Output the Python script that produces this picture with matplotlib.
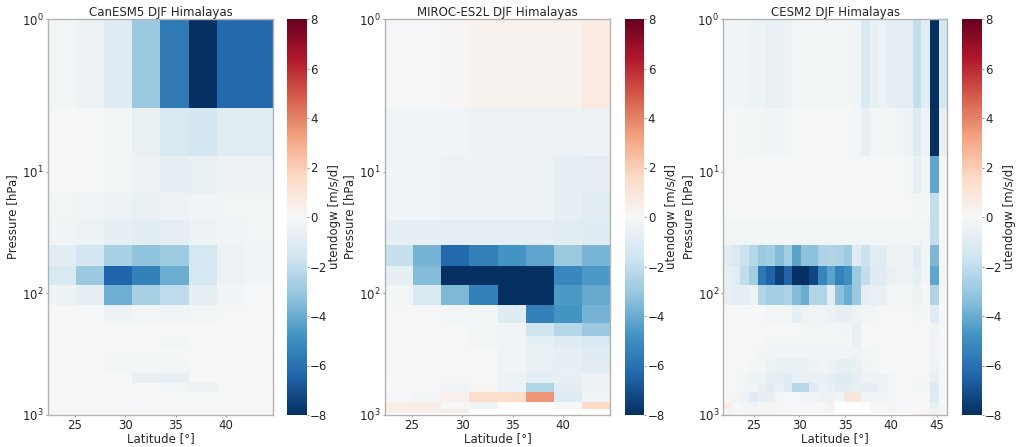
import numpy as np
import matplotlib
matplotlib.use("Agg")
import matplotlib.pyplot as plt
from matplotlib.ticker import LogLocator, LogFormatterSciNotation, NullLocator

nan = np.nan

# ---------------- data ----------------
plev = [1, 5, 10, 20, 30, 50, 70, 100, 150, 200, 250, 300, 400, 500, 600, 700, 850, 925, 1000]

lat_canesm5 = [23.72, 26.51, 29.30, 32.09, 34.88, 37.67, 40.46, 43.25]
lat_miroc = [23.72, 26.51, 29.30, 32.09, 34.88, 37.67, 40.46, 43.25]
lat_cesm2 = [22.15, 23.09, 24.03, 24.97, 25.92, 26.86, 27.80, 28.74, 29.69, 30.63,
             31.57, 32.51, 33.46, 34.40, 35.34, 36.28, 37.23, 38.17, 39.11, 40.05,
             41.00, 41.94, 42.88, 43.82, 44.76, 45.71]

canesm5 = [
    [-0.2, -0.4, -1.0, -3.0, -5.7, -8.5, -6.3, -6.3],
    [-0.1, -0.1, -0.2, -0.6, -1.3, -1.5, -0.9, -0.9],
    [-0.1, -0.1, -0.2, -0.4, -0.7, -0.6, -0.4, -0.4],
    [-0.2, -0.3, -0.4, -0.6, -0.4, -0.3, -0.2, -0.2],
    [-0.3, -0.4, -0.7, -0.9, -0.8, -0.4, -0.3, -0.2],
    [-0.9, -1.5, -2.6, -3.2, -2.9, -1.4, -0.5, -0.3],
    [-1.3, -3.0, -6.4, -5.5, -4.0, -1.4, -0.4, -0.3],
    [-0.4, -0.7, -3.9, -2.6, -2.1, -0.7, -0.3, -0.1],
    [-0.1, -0.1, -0.4, -0.2, -0.3, -0.2, -0.1, -0.1],
    [-0.1, -0.1, -0.1, -0.1, -0.1, -0.1, -0.1, -0.1],
    [-0.1, -0.1, -0.1, -0.1, -0.2, -0.1, -0.1, -0.1],
    [-0.1, -0.1, -0.1, -0.1, -0.1, -0.1, -0.1, -0.1],
    [-0.1, -0.1, -0.2, -0.2, -0.2, -0.1, -0.1, -0.1],
    [-0.1, -0.1, -0.1, -0.6, -0.7, -0.1, -0.1, -0.1],
    [-0.1, -0.1, -0.1, -0.1, -0.2, -0.4, -0.1, -0.1],
    [-0.1, -0.1, -0.1, -0.1, -0.1, -0.1, -0.1, -0.1],
    [-0.1, -0.1, -0.1, -0.1, -0.1, -0.1, -0.1, -0.1],
    [-0.1, -0.1, -0.1, 0.1, -0.1, -0.1, -0.1, -0.1],
    [-0.1, -0.1, -0.1, 0.1, -0.1, -0.1, -0.1, -0.1],
]

miroc = [
    [-0.1, -0.1, 0.1, 0.3, 0.3, 0.3, 0.3, 0.7],
    [-0.3, -0.3, -0.3, -0.4, -0.4, -0.4, -0.4, -0.4],
    [-0.3, -0.3, -0.4, -0.5, -0.5, -0.5, -0.7, -0.8],
    [-0.3, -0.3, -0.4, -0.5, -0.5, -0.5, -0.7, -0.9],
    [-0.7, -0.7, -0.8, -0.8, -0.8, -0.8, -0.9, -1.0],
    [-1.9, -3.8, -6.3, -5.5, -4.8, -4.2, -3.0, -3.7],
    [-0.7, -3.5, -9.0, -9.0, -9.0, -9.0, -5.2, -4.6],
    [-0.2, -1.3, -3.6, -5.5, -9.0, -9.0, -4.6, -4.1],
    [-0.1, -0.1, -0.2, -0.2, -1.0, -5.5, -4.8, -3.8],
    [-0.1, -0.1, -0.1, -0.2, -0.3, -1.6, -2.3, -3.0],
    [-0.1, -0.1, -0.1, -0.2, -0.3, -0.7, -1.0, -1.3],
    [-0.1, -0.1, -0.1, -0.1, -0.3, -0.6, -0.8, -1.0],
    [-0.1, -0.1, -0.1, -0.1, -0.3, -0.6, -0.7, -0.9],
    [-0.1, -0.1, -0.1, -0.1, -0.4, -0.8, -0.6, -0.5],
    [-0.05, -0.1, -0.3, 0.1, -0.5, -2.4, -0.9, -0.4],
    [-0.1, -0.2, 0.4, 1.4, 1.4, 3.5, -1.0, -0.3],
    [0.6, 0.5, -0.1, -0.3, nan, nan, -0.1, 1.6],
    [0.5, 0.4, 0.5, nan, nan, nan, nan, nan],
    [nan, nan, nan, nan, nan, nan, nan, nan],
]

cesm2 = [
    [-0.3, -0.3, -0.3, -0.4, -0.4, -0.6, -0.6, -0.5, -0.2, -0.2, -0.2, -0.2, -0.2,
     -0.2, -0.2, -0.3, -1.3, -0.6, -0.5, -0.7, -0.8, -0.8, -2.0, -0.9, -9.0, -1.4],
    [-0.1, -0.1, -0.2, -0.2, -0.2, -0.3, -0.3, -0.2, -0.1, -0.1, -0.1, -0.1, -0.1,
     -0.1, -0.1, -0.2, -0.6, -0.2, -0.2, -0.2, -0.3, -0.5, -1.1, -0.5, -9.0, -0.6],
    [-0.1, -0.1, -0.1, -0.1, -0.1, -0.1, -0.1, -0.1, -0.1, -0.1, -0.1, -0.1, -0.1,
     -0.1, -0.1, -0.1, -0.1, -0.1, -0.1, -0.1, -0.1, -0.2, -0.7, -0.2, -4.2, -0.1],
    [-0.1, -0.1, -0.1, -0.1, -0.1, -0.1, -0.1, -0.1, -0.1, -0.1, -0.1, -0.1, -0.1,
     -0.1, -0.1, -0.1, -0.1, -0.1, -0.1, -0.1, -0.1, -0.1, -0.2, -0.1, -2.0, -0.1],
    [-0.2, -0.2, -0.2, -0.2, -0.2, -0.2, -0.2, -0.2, -0.2, -0.2, -0.2, -0.2, -0.2,
     -0.2, -0.2, -0.2, -0.2, -0.2, -0.2, -0.2, -0.2, -0.2, -0.2, -0.2, -2.0, -0.1],
    [-0.9, -1.2, -1.8, -2.3, -3.0, -2.8, -3.5, -2.8, -4.3, -3.3, -3.3, -2.5, -2.4,
     -2.5, -2.9, -1.0, -1.7, -0.9, -0.9, -0.4, -0.4, -0.4, -0.9, -0.2, -3.6, -0.1],
    [-0.6, -1.0, -2.0, -2.8, -5.8, -6.5, -7.5, -6.4, -8.6, -8.3, -7.3, -5.3, -4.3,
     -5.5, -4.9, -2.9, -2.0, -1.0, -1.0, -0.6, -0.4, -0.4, -0.7, -0.2, -4.2, -0.2],
    [-0.6, -0.8, -0.7, -0.4, -2.4, -2.8, -2.8, -2.5, -3.5, -4.0, -2.4, -2.4, -0.9,
     -3.3, -4.0, -3.0, -0.8, -0.6, -0.6, -0.2, -0.2, -0.2, -0.4, -0.1, -2.5, -0.1],
    [-0.1, -0.1, -0.1, -0.1, -0.1, -0.2, -0.2, -0.2, -0.7, -0.4, -0.3, -0.3, -0.4,
     -0.6, -0.7, -0.5, -0.2, -0.2, -0.1, -0.1, -0.1, -0.1, -0.2, -0.1, -1.0, -0.1],
    [-0.1, -0.1, -0.1, -0.1, -0.1, -0.1, -0.1, -0.1, -0.1, -0.2, -0.2, -0.2, -0.2,
     -0.2, -0.3, -0.7, -0.1, -0.1, -0.1, -0.1, -0.1, -0.1, -0.1, -0.1, -0.4, -0.1],
    [-0.1, -0.1, -0.1, -0.1, -0.1, -0.2, -0.2, -0.2, -0.2, -0.2, -0.2, -0.2, -0.2,
     -0.2, -0.2, -0.6, -0.1, -0.1, -0.1, -0.1, -0.1, -0.1, -0.1, -0.1, -0.3, -0.1],
    [-0.1, -0.1, -0.1, -0.1, -0.2, -0.3, -0.3, -0.3, -0.3, -0.3, -0.3, -0.3, -0.3,
     -0.3, -0.3, -0.4, -0.2, -0.2, -0.1, -0.1, -0.1, -0.1, -0.1, -0.1, -0.3, -0.1],
    [-0.1, -0.1, -0.1, -0.2, -0.2, -0.4, -0.6, -0.6, -0.6, -0.6, -0.4, -0.3, -0.5,
     -0.6, -0.7, -0.6, -0.3, -0.2, -0.1, -0.1, -0.1, -0.1, -0.1, -0.1, -0.4, -0.1],
    [-0.1, -0.1, -0.2, -0.4, -0.4, -0.6, -0.8, -1.0, -0.6, -0.6, -0.6, -0.6, -0.8,
     -1.0, -1.0, -0.7, -0.5, -0.4, -0.4, -0.2, -0.1, -0.1, -0.1, -0.1, -0.6, -0.1],
    [-0.1, -0.1, -0.2, -0.3, -0.6, -0.9, -0.6, -1.0, -2.3, -2.2, -0.9, -0.5, -0.6,
     -0.9, -0.9, -0.6, -0.8, -0.8, -0.5, -0.2, -0.1, -0.1, -0.2, -0.2, -1.1, -0.1],
    [-0.1, -0.2, -0.5, -1.0, -0.7, -0.6, -0.2, -0.1, -0.1, -0.3, -0.3, -0.4, -0.5,
     -0.2, 0.9, 0.9, -0.3, -0.3, -0.3, -0.2, -0.1, -0.1, -0.1, -0.1, -1.1, -0.1],
    [0.6, -0.1, -0.2, -0.3, -0.1, 0.1, 0.0, -0.1, -0.1, -0.1, -0.1, 0.0, 0.3,
     nan, nan, nan, nan, -0.1, -0.1, 0.1, -0.1, -0.1, -0.1, -0.1, -0.6, -0.1],
    [0.1, -0.1, -0.1, 0.2, 0.2, 0.1, 0.1, 0.0, 0.0, -0.1, -0.1, 0.0, 0.2,
     nan, nan, nan, nan, -0.1, -0.1, 0.2, 0.0, 0.0, 0.0, 0.1, -0.3, -0.1],
    [0.1, 0.0, 0.0, 0.1, 0.1, 0.1, 0.1, 0.0, nan, nan, nan, nan, nan,
     nan, nan, nan, nan, nan, nan, nan, nan, nan, 0.3, 0.4, 0.4, 0.0],
]

titles = ["CanESM5 DJF Himalayas", "MIROC-ES2L DJF Himalayas", "CESM2 DJF Himalayas"]
cbar_ticks = [-8, -6, -4, -2, 0, 2, 4, 6, 8]
cbar_label = "utendogw [m/s/d]"

# ---------------- pressure scale: log below 3 hPa, stretched top layer ----------------
P_KNEE = 3.0
T_KNEE = np.log10(P_KNEE)
T_ONE = -0.253  # position of 1 hPa in scaled units


def fwd(p):
    p = np.asarray(p, dtype=float)
    logp = np.log10(np.maximum(p, P_KNEE))
    lin = T_KNEE - (P_KNEE - p) / (P_KNEE - 1.0) * (T_KNEE - T_ONE)
    return np.where(p >= P_KNEE, logp, lin)


def inv(t):
    t = np.asarray(t, dtype=float)
    pw = 10.0 ** np.clip(t, -10, 10)
    lin = P_KNEE - (T_KNEE - t) / (T_KNEE - T_ONE) * (P_KNEE - 1.0)
    return np.where(t >= T_KNEE, pw, lin)


# ---------------- style ----------------
plt.rcParams.update({
    "font.family": "DejaVu Sans",
    "font.size": 8.5,
    "text.color": "0.15",
    "axes.labelcolor": "0.15",
    "xtick.color": "0.15",
    "ytick.color": "0.15",
    "axes.edgecolor": "0.7",
    "axes.linewidth": 1.0,
})

fig = plt.figure(figsize=(10.19, 4.47), dpi=100)
W, H = 1019.0, 447.0
ax_top, ax_bot = 19.0, 415.0
panels = [
    (48.0, 273.0, 287.3, 306.7),
    (385.0, 610.0, 625.0, 644.3),
    (723.3, 947.3, 962.3, 981.7),
]
datasets = [(lat_canesm5, canesm5), (lat_miroc, miroc), (lat_cesm2, cesm2)]

for (x0, x1, c0, c1), (lats, vals), title in zip(panels, datasets, titles):
    ax = fig.add_axes([x0 / W, 1 - ax_bot / H, (x1 - x0) / W, (ax_bot - ax_top) / H])
    cax = fig.add_axes([c0 / W, 1 - ax_bot / H, (c1 - c0) / W, (ax_bot - ax_top) / H])
    ax.set_yscale("function", functions=(fwd, inv))
    z = np.ma.masked_invalid(np.array(vals, dtype=float))
    mesh = ax.pcolormesh(np.array(lats), np.array(plev, dtype=float), z,
                         cmap="RdBu_r", vmin=-8, vmax=8, shading="nearest",
                         antialiased=False, linewidth=0)
    lats_a = np.array(lats)
    dl = lats_a[1] - lats_a[0]
    ax.set_xlim(lats_a[0] - dl / 2, lats_a[-1] + dl / 2)
    ax.set_ylim(1000, 1)
    ax.yaxis.set_major_locator(LogLocator(base=10))
    ax.yaxis.set_major_formatter(LogFormatterSciNotation(base=10))
    ax.yaxis.set_minor_locator(NullLocator())
    ax.tick_params(length=1.5, width=0.8, color="0.6", pad=1.5)
    ax.set_title(title, fontsize=8.5, pad=2)
    ax.set_xlabel("Latitude [°]", labelpad=0)
    ax.set_ylabel("Pressure [hPa]", labelpad=2)
    cb = fig.colorbar(mesh, cax=cax, ticks=cbar_ticks)
    cb.outline.set_visible(False)
    cb.ax.tick_params(length=1.5, width=0.8, color="0.6", pad=1)
    cb.set_label(cbar_label, labelpad=0)

fig.savefig("out.png", dpi=100)
